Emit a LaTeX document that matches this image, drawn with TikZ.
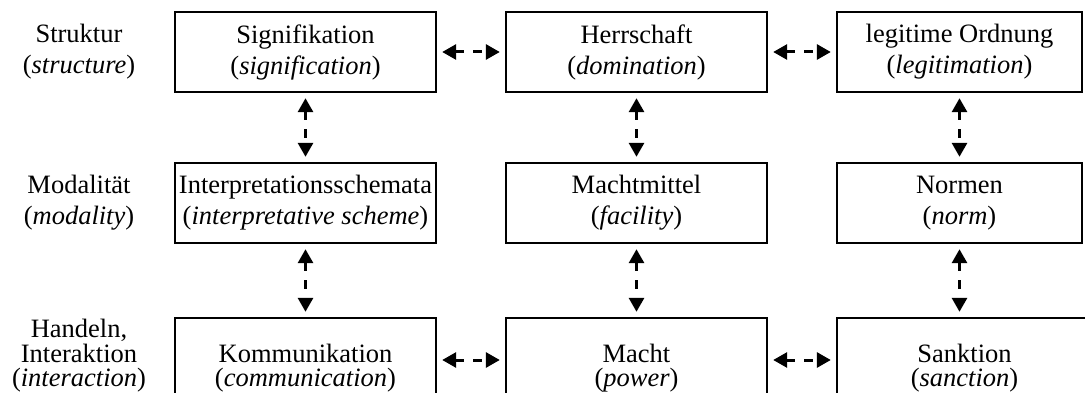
\documentclass[tikz,border=0pt]{standalone}
\usepackage{fontspec}
\setmainfont{Liberation Serif}
\usetikzlibrary{arrows.meta}

\begin{document}
\begin{tikzpicture}[x=1pt,y=-1pt,
  box/.style={draw,line width=2.4pt,minimum width=261pt,minimum height=80pt,
    align=center,inner sep=0pt,font=\fontsize{26.5}{31}\selectfont},
  lowbox/.style={box,minimum height=100pt,font=\fontsize{26.5}{24.5}\selectfont},
  rowlabel/.style={align=center,inner sep=0pt,font=\fontsize{26.5}{31}\selectfont},
  lowlabel/.style={rowlabel,font=\fontsize{26.5}{24.5}\selectfont},
  tip/.tip={Triangle[length=14pt,width=15pt]},
  link/.style={tip-tip,line width=3pt,dash pattern=on 9pt off 9pt,
    shorten <=5pt,shorten >=5pt}]
\useasboundingbox (0,0) rectangle (1085,393);
\clip (0,0) rectangle (1085,393);

% row labels
\node[rowlabel] (lstruct) at (79,52) {Struktur\\(\textit{structure})};
\node[rowlabel] (lmod) at (79,203) {Modalität\\(\textit{modality})};
\node[lowlabel] (lact) at (79,356) {Handeln,\\Interaktion\\(\textit{interaction})};

% structure
\node[box] (sig) at (305.5,52) {Signifikation\\(\textit{signification})};
\node[box] (dom) at (636.5,52) {Herrschaft\\(\textit{domination})};
\node[box,minimum width=245pt] (leg) at (959.5,52) {legitime Ordnung\\(\textit{legitimation})};

% modality
\node[box] (isch) at (305.5,203) {Interpretationsschemata\\(\textit{interpretative scheme})};
\node[box] (fac) at (636.5,203) {Machtmittel\\(\textit{facility})};
\node[box,minimum width=245pt] (norm) at (959.5,203) {Normen\\(\textit{norm})};

% interaction
\node[lowbox] (com) at (305.5,368) {Kommunikation\\(\textit{communication})};
\node[lowbox] (pow) at (636.5,368) {Macht\\(\textit{power})};
\node[lowbox,minimum width=255pt] (sanc) at (964.5,368) {Sanktion\\(\textit{sanction})};

% horizontal links
\draw[link] (sig.east) -- (dom.west);
\draw[link] (dom.east) -- (leg.west);
\draw[link] (com.east |- 0,360) -- (pow.west |- 0,360);
\draw[link] (pow.east |- 0,360) -- (sanc.west |- 0,360);

% vertical links
\draw[link] (sig.south) -- (isch.north);
\draw[link] (dom.south) -- (fac.north);
\draw[link] (leg.south) -- (norm.north);
\draw[link] (isch.south) -- (com.north);
\draw[link] (fac.south) -- (pow.north);
\draw[link] (norm.south) -- (norm.south |- sanc.north);
\end{tikzpicture}
\end{document}
